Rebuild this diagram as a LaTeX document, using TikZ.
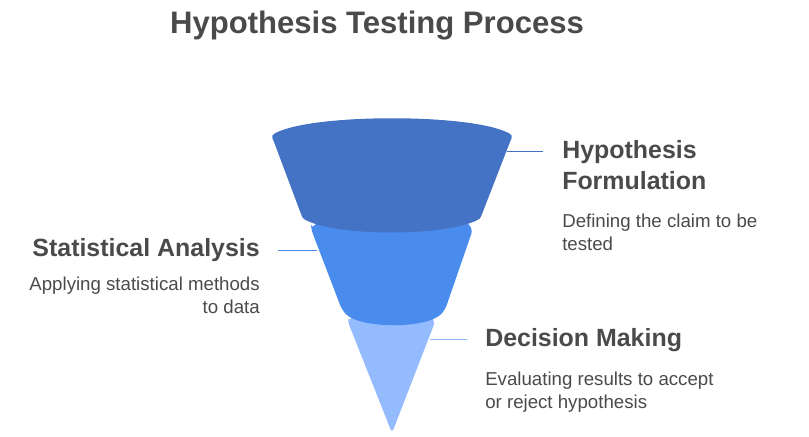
\documentclass[tikz,border=0pt]{standalone}
\usepackage{fontspec}
\setmainfont{Liberation Sans}
\definecolor{darkblue}{HTML}{4472C4}
\definecolor{midblue}{HTML}{4A8BEE}
\definecolor{lightblue}{HTML}{94BBFD}
\definecolor{textgray}{HTML}{4A4A4A}
\begin{document}
\begin{tikzpicture}[x=0.75pt, y=-0.75pt,
    heading/.style={inner sep=0, text=textgray, font=\fontsize{18.7}{23.3}\selectfont\bfseries},
    desc/.style={inner sep=0, text=textgray, font=\fontsize{14}{17.3}\selectfont}]
\useasboundingbox (0,0) rectangle (809,436);

% funnel, drawn from the bottom layer up
\fill[lightblue, rounded corners=3pt] (348,322) -- (392,433) -- (435,322)
    .. controls (420,300) and (364,300) .. cycle;
\fill[midblue, rounded corners=4pt] (311,229) -- (342,310)
    .. controls (360,329) and (427,329) .. (445,310) -- (473,229)
    .. controls (450,205) and (334,205) .. cycle;
\fill[darkblue] (274,142) -- (301,214)
    .. controls (303,219) .. (310,222)
    .. controls (345,236) and (438,236) .. (473,222)
    .. controls (480,219) .. (482,214) -- (510,142)
    .. controls (513,135) .. (504,131)
    .. controls (462,114) and (322,114) .. (280,131)
    .. controls (271,135) .. cycle;

\node[inner sep=0, text=textgray, font=\fontsize{23.3}{28}\selectfont\bfseries, anchor=base] (title) at (377,33) {Hypothesis Testing Process};

% layer 1
\coordinate (l1a) at (507,151);
\coordinate (l1b) at (543,151);
\draw[darkblue, line width=0.75pt] (l1a) -- (l1b);
\node[heading, anchor=north west, align=left] (hf) at (562,140.5) {Hypothesis\\Formulation};
\node[desc, anchor=north west, align=left] (hfd) at (562,213.5) {Defining the claim to be\\tested};

% layer 2
\coordinate (l2a) at (317,250);
\coordinate (l2b) at (278,250);
\draw[midblue, line width=0.75pt] (l2a) -- (l2b);
\node[heading, anchor=north east] (sa) at (260,238.5) {Statistical Analysis};
\node[desc, anchor=north east, align=right] (sad) at (260,276.4) {Applying statistical methods\\to data};

% layer 3
\coordinate (l3a) at (430,339);
\coordinate (l3b) at (467,339);
\draw[lightblue, line width=0.75pt] (l3a) -- (l3b);
\node[heading, anchor=north west] (dm) at (485,328.5) {Decision Making};
\node[desc, anchor=north west, align=left] (dmd) at (485,371.4) {Evaluating results to accept\\or reject hypothesis};

\end{tikzpicture}
\end{document}
